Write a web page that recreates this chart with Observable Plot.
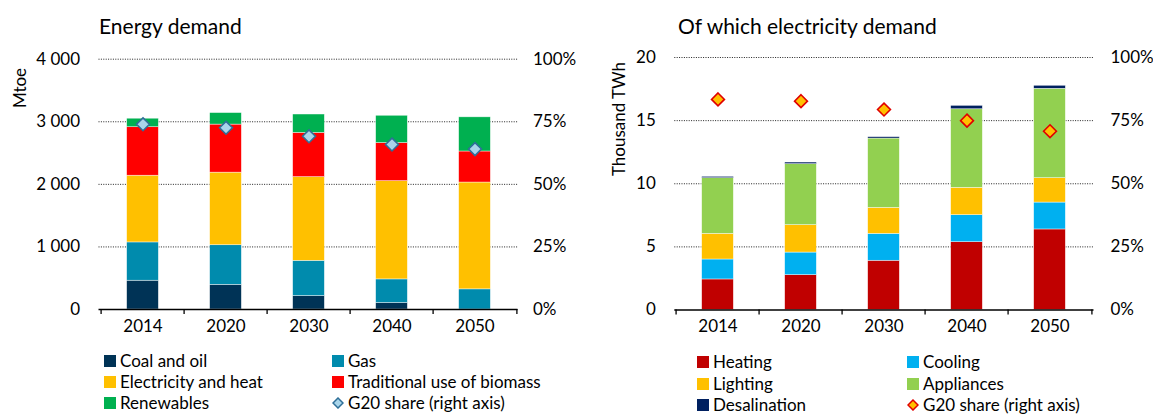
<!DOCTYPE html>
<html>
<head>
<meta charset="utf-8">
<script src="https://cdn.jsdelivr.net/npm/d3@7"></script>
<script src="https://cdn.jsdelivr.net/npm/@observablehq/plot@0.6"></script>
<style>
  html, body { margin: 0; padding: 0; background: #fff; }
  #root { position: relative; width: 1153px; height: 416px; overflow: hidden; font-family: Lato, "DejaVu Sans", sans-serif; color: #000; }
  .title { position: absolute; font-size: 21px; white-space: nowrap; }
  .ylab { position: absolute; font-size: 17px; white-space: nowrap; transform: translate(-50%, -50%) rotate(-90deg); }
  .panel { position: absolute; top: 40px; }
  .leg { position: absolute; font-size: 17px; line-height: 18px; white-space: nowrap; display: flex; align-items: center; height: 18px; }
  .sw { display: inline-block; width: 12px; height: 12px; margin-right: 4px; }
  .legsvg { margin-right: 4px; }
</style>
</head>
<body>
<div id="root"></div>
<script>
// ---------- Data ----------
const years = ["2014", "2020", "2030", "2040", "2050"];

// Energy demand (Mtoe)
const energySeries = ["Coal and oil", "Gas", "Electricity and heat", "Traditional use of biomass", "Renewables"];
const coalOil     = [460, 394, 215, 104, 0];
const gas         = [612, 633, 563, 377, 322];
const elecHeat    = [1066, 1160, 1337, 1570, 1707];
const biomass     = [775, 768, 707, 609, 496];
const renewables  = [136, 184, 294, 436, 546];
const energyShare = [74.0, 72.6, 69.2, 65.9, 64.1]; // % (right axis)
const energyTicks = [0, 1000, 2000, 3000, 4000];
const energyColors = ["#003356", "#008bad", "#ffc000", "#ff0000", "#00b050"];

// Electricity demand (thousand TWh)
const elecSeries = ["Heating", "Cooling", "Lighting", "Appliances", "Desalination"];
const heating      = [2.42, 2.76, 3.90, 5.37, 6.38];
const cooling      = [1.58, 1.79, 2.13, 2.14, 2.13];
const lighting     = [2.03, 2.17, 2.06, 2.17, 1.93];
const appliances   = [4.41, 4.83, 5.49, 6.22, 7.08];
const desalination = [0.11, 0.13, 0.11, 0.27, 0.24];
const elecShare    = [83.4, 82.7, 79.4, 75.0, 70.8]; // % (right axis)
const elecTicks    = [0, 5, 10, 15, 20];
const elecColors   = ["#c00000", "#00b0f0", "#ffc000", "#92d050", "#002060"];

// ---------- Build tables ----------
function longTable(series, arrays) {
  const out = [];
  series.forEach((s, si) => years.forEach((y, yi) => out.push({year: y, series: s, value: arrays[si][yi]})));
  return out;
}
const energyData = longTable(energySeries, [coalOil, gas, elecHeat, biomass, renewables]);
const elecData = longTable(elecSeries, [heating, cooling, lighting, appliances, desalination]);
const energyShareData = years.map((y, i) => ({year: y, share: energyShare[i]}));
const elecShareData = years.map((y, i) => ({year: y, share: elecShare[i]}));

const spaceFmt = d3.formatLocale({decimal: ".", thousands: " ", grouping: [3], currency: ["", ""]}).format(",");

function panel(cfg) {
  const plotW = cfg.width - cfg.marginLeft - cfg.marginRight;
  const step = plotW / years.length;
  const inset = (step - cfg.barWidth) / 2;
  const ymax = cfg.ticks[cfg.ticks.length - 1];
  return Plot.plot({
    width: cfg.width, height: cfg.height,
    marginLeft: cfg.marginLeft, marginRight: cfg.marginRight,
    marginTop: cfg.marginTop, marginBottom: cfg.marginBottom,
    style: {fontFamily: "Lato, 'DejaVu Sans', sans-serif", fontSize: "17px", color: "#000", background: "transparent", overflow: "visible"},
    x: {domain: years, padding: 0, label: null},
    y: {domain: [0, ymax], label: null},
    color: {domain: cfg.series, range: cfg.colors},
    marks: [
      Plot.gridY(cfg.ticks.slice(1), {stroke: "#222", strokeOpacity: 1, strokeWidth: 1, strokeDasharray: "1,1.4"}),
      Plot.barY(cfg.data, {x: "year", y: "value", fill: "series", order: cfg.series,
        insetLeft: inset, insetRight: inset, stroke: "#fff", strokeWidth: 0.6, strokeOpacity: 0.7}),
      Plot.ruleY([0], {stroke: "#000", strokeWidth: 1.3}),
      Plot.ruleX(years, {x: d => d, dx: -step / 2, y1: 0, y2: 0, insetBottom: -5, stroke: "#000", strokeWidth: 1.3}),
      Plot.ruleX(years.slice(-1), {x: d => d, dx: step / 2, y1: 0, y2: 0, insetBottom: -5, stroke: "#000", strokeWidth: 1.3}),
      Plot.axisX({tickSize: 0, tickPadding: 10, fontSize: 17}),
      Plot.axisY(cfg.ticks, {anchor: "left", tickSize: 0, tickPadding: cfg.leftPad, tickFormat: cfg.leftFmt, fontSize: 17}),
      Plot.axisY(cfg.ticks, {anchor: "right", tickSize: 0, tickPadding: cfg.rightPad, tickFormat: d => Math.round(d / ymax * 100) + "%", fontSize: 17}),
      Plot.dot(cfg.shareData, {x: "year", y: d => d.share / 100 * ymax, symbol: "diamond2", r: 5.8,
        fill: cfg.dotFill, stroke: cfg.dotStroke, strokeWidth: 1.6})
    ]
  });
}

const root = document.getElementById("root");

function addDiv(cls, text, css) {
  const d = document.createElement("div");
  d.className = cls;
  d.textContent = text;
  Object.assign(d.style, css);
  root.appendChild(d);
  return d;
}

// Titles
addDiv("title", "Energy demand", {left: "99px", top: "13px"});
addDiv("title", "Of which electricity demand", {left: "678px", top: "13px"});
addDiv("ylab", "Mtoe", {left: "19px", top: "88px"});
addDiv("ylab", "Thousand TWh", {left: "618px", top: "119px"});

// Left panel
const p1 = panel({
  width: 580, height: 300, marginLeft: 98.5, marginRight: 62.5, marginTop: 18.7, marginBottom: 31,
  barWidth: 32.5, ticks: energyTicks, series: energySeries, colors: energyColors, data: energyData,
  shareData: energyShareData, leftFmt: spaceFmt, leftPad: 19, rightPad: 15,
  dotFill: "#a9d5ea", dotStroke: "#2f6f98"
});
const w1 = document.createElement("div"); w1.className = "panel"; w1.style.left = "0px"; w1.appendChild(p1); root.appendChild(w1);

// Right panel
const p2 = panel({
  width: 573, height: 300, marginLeft: 94.3, marginRight: 59.5, marginTop: 17, marginBottom: 30.5,
  barWidth: 32.5, ticks: elecTicks, series: elecSeries, colors: elecColors, data: elecData,
  shareData: elecShareData, leftFmt: d => String(d), leftPad: 19, rightPad: 16.5,
  dotFill: "#ffc000", dotStroke: "#e00000"
});
const w2 = document.createElement("div"); w2.className = "panel"; w2.style.left = "580px"; w2.appendChild(p2); root.appendChild(w2);

// Legends
function legendItem(x, yc, label, color, diamond) {
  const d = document.createElement("div");
  d.className = "leg";
  d.style.left = x + "px";
  d.style.top = (yc - 9) + "px";
  if (diamond) {
    const ns = "http://www.w3.org/2000/svg";
    const s = document.createElementNS(ns, "svg");
    s.setAttribute("width", 12); s.setAttribute("height", 12); s.setAttribute("class", "legsvg");
    const p = document.createElementNS(ns, "path");
    p.setAttribute("d", "M6,1 L11,6 L6,11 L1,6 Z");
    p.setAttribute("fill", diamond.fill); p.setAttribute("stroke", diamond.stroke); p.setAttribute("stroke-width", 1.5);
    s.appendChild(p); d.appendChild(s);
  } else {
    const sw = document.createElement("span"); sw.className = "sw"; sw.style.background = color; d.appendChild(sw);
  }
  d.appendChild(document.createTextNode(label));
  root.appendChild(d);
}
const leftRows = [361, 382, 403];
legendItem(104, leftRows[0], energySeries[0], energyColors[0]);
legendItem(332, leftRows[0], energySeries[1], energyColors[1]);
legendItem(104, leftRows[1], energySeries[2], energyColors[2]);
legendItem(332, leftRows[1], energySeries[3], energyColors[3]);
legendItem(104, leftRows[2], energySeries[4], energyColors[4]);
legendItem(332, leftRows[2], "G20 share (right axis)", null, {fill: "#a9d5ea", stroke: "#2f6f98"});

const rightRows = [362, 384, 405];
legendItem(697, rightRows[0], elecSeries[0], elecColors[0]);
legendItem(907, rightRows[0], elecSeries[1], elecColors[1]);
legendItem(697, rightRows[1], elecSeries[2], elecColors[2]);
legendItem(907, rightRows[1], elecSeries[3], elecColors[3]);
legendItem(697, rightRows[2], elecSeries[4], elecColors[4]);
legendItem(907, rightRows[2], "G20 share (right axis)", null, {fill: "#ffc000", stroke: "#e00000"});
</script>
</body>
</html>
